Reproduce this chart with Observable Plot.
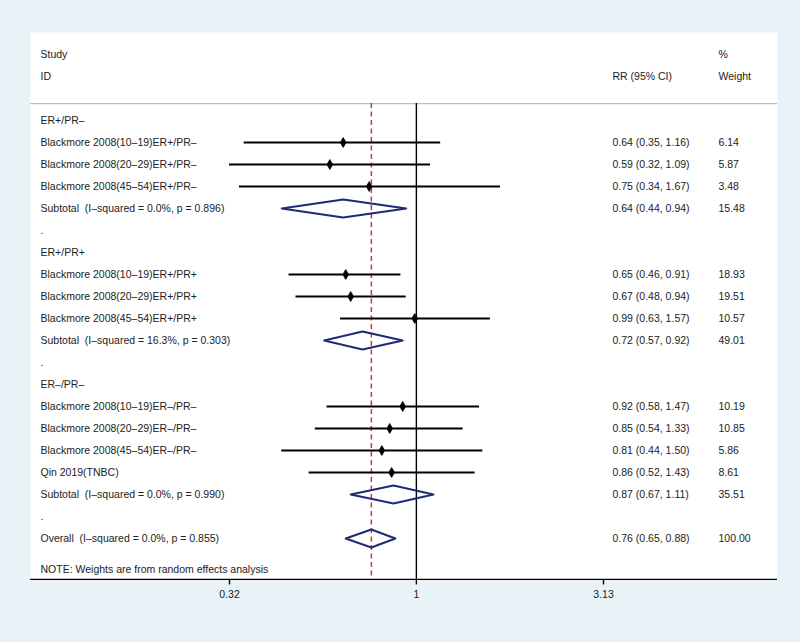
<!DOCTYPE html>
<html>
<head>
<meta charset="utf-8">
<script src="https://cdn.jsdelivr.net/npm/d3@7"></script>
<script src="https://cdn.jsdelivr.net/npm/@observablehq/plot@0.6"></script>
<style>
  html, body { margin: 0; padding: 0; background: #e9f2f7; }
</style>
</head>
<body>
<div id="chart"></div>
<script>
// ---- data ----
const groupNames = ["ER+/PR–", "ER+/PR+", "ER–/PR–"];
const studyLabels = [
  "Blackmore 2008(10–19)ER+/PR–",
  "Blackmore 2008(20–29)ER+/PR–",
  "Blackmore 2008(45–54)ER+/PR–",
  "Blackmore 2008(10–19)ER+/PR+",
  "Blackmore 2008(20–29)ER+/PR+",
  "Blackmore 2008(45–54)ER+/PR+",
  "Blackmore 2008(10–19)ER–/PR–",
  "Blackmore 2008(20–29)ER–/PR–",
  "Blackmore 2008(45–54)ER–/PR–",
  "Qin 2019(TNBC)"
];
const studyGroup  = [0, 0, 0, 1, 1, 1, 2, 2, 2, 2];
const studyRR     = [0.64, 0.59, 0.75, 0.65, 0.67, 0.99, 0.92, 0.85, 0.81, 0.86];
const studyLo     = [0.35, 0.32, 0.34, 0.46, 0.48, 0.63, 0.58, 0.54, 0.44, 0.52];
const studyHi     = [1.16, 1.09, 1.67, 0.91, 0.94, 1.57, 1.47, 1.33, 1.50, 1.43];
const studyWeight = ["6.14", "5.87", "3.48", "18.93", "19.51", "10.57", "10.19", "10.85", "5.86", "8.61"];

const subRR     = [0.64, 0.72, 0.87];
const subLo     = [0.44, 0.57, 0.67];
const subHi     = [0.94, 0.92, 1.11];
const subWeight = ["15.48", "49.01", "35.51"];
const subI2     = ["0.0%", "16.3%", "0.0%"];
const subP      = ["0.896", "0.303", "0.990"];

const overallRR = 0.76, overallLo = 0.65, overallHi = 0.88;
const overallWeight = "100.00", overallI2 = "0.0%", overallP = "0.855";

const tickValues = [0.32, 1, 3.13];
const tickLabels = ["0.32", "1", "3.13"];
const noteText = "NOTE: Weights are from random effects analysis";

// ---- build table (row index = line in the forest plot) ----
const f2 = v => v.toFixed(2);
const ciText = (e, l, h) => `${f2(e)} (${f2(l)}, ${f2(h)})`;

const labelRows = [];   // {row, label, ci, weight}
const studies = [];     // {row, rr, lo, hi}
const diamonds = [];    // polygon vertices {id, x, y}
const ticks = tickValues.map((v, i) => ({x: v, label: tickLabels[i]}));

labelRows.push({row: 0, label: "Study", ci: "", weight: "%"});
labelRows.push({row: 1, label: "ID", ci: "RR (95% CI)", weight: "Weight"});

function addDiamond(id, row, e, l, h) {
  const hh = 0.41;
  diamonds.push({id, x: l, y: row});
  diamonds.push({id, x: e, y: row - hh});
  diamonds.push({id, x: h, y: row});
  diamonds.push({id, x: e, y: row + hh});
}

let row = 3;
groupNames.forEach((g, gi) => {
  labelRows.push({row, label: g, ci: "", weight: ""});
  row++;
  studyLabels.forEach((s, i) => {
    if (studyGroup[i] !== gi) return;
    labelRows.push({row, label: s, ci: ciText(studyRR[i], studyLo[i], studyHi[i]), weight: studyWeight[i]});
    studies.push({row, rr: studyRR[i], lo: studyLo[i], hi: studyHi[i]});
    row++;
  });
  labelRows.push({row, label: `Subtotal\u00a0 (I–squared = ${subI2[gi]}, p = ${subP[gi]})`,
                  ci: ciText(subRR[gi], subLo[gi], subHi[gi]), weight: subWeight[gi]});
  addDiamond("s" + gi, row, subRR[gi], subLo[gi], subHi[gi]);
  row++;
  labelRows.push({row, label: ".", ci: "", weight: ""});
  row++;
});
const overallRow = row;
labelRows.push({row, label: `Overall\u00a0 (I–squared = ${overallI2}, p = ${overallP})`,
                ci: ciText(overallRR, overallLo, overallHi), weight: overallWeight});
addDiamond("o", row, overallRR, overallLo, overallHi);
labelRows.push({row: overallRow + 1.4, label: noteText, ci: "", weight: ""});

const sepRow = 2.23;
const axisRow = 23.86;

const fontStack = "'Liberation Sans', Arial, Helvetica, sans-serif";

const chart = Plot.plot({
  width: 800,
  height: 642,
  marginLeft: 30,
  marginRight: 23,
  marginTop: 32,
  marginBottom: 63,
  style: {background: "#e9f2f7", fontFamily: fontStack, fontSize: "10.5px", color: "#222", overflow: "visible"},
  x: {type: "log", domain: [0.32, 3.13], range: [229, 603], axis: null},
  y: {domain: [0, 23], range: [54, 560], axis: null},
  marks: [
    Plot.frame({fill: "white", stroke: null}),
    Plot.ruleY([sepRow], {stroke: "#bdbdbd", strokeWidth: 1.2}),
    Plot.ruleX([1], {y1: sepRow, y2: axisRow, stroke: "black", strokeWidth: 1.4}),
    Plot.ruleX([overallRR], {y1: sepRow, y2: axisRow, stroke: "#d0343a", strokeWidth: 1.5, strokeDasharray: "5,3.5"}),
    Plot.ruleY(studies, {y: "row", x1: "lo", x2: "hi", stroke: "black", strokeWidth: 2}),
    Plot.dot(studies, {x: "rr", y: "row", symbol: "diamond", r: 3, fill: "black", stroke: "black", strokeWidth: 0.8}),
    Plot.line(diamonds, {x: "x", y: "y", z: "id", stroke: "#1f2a78", strokeWidth: 2, curve: "linear-closed"}),
    Plot.text(labelRows, {y: "row", text: "label", frameAnchor: "left", dx: 10, textAnchor: "start", fill: "#222"}),
    Plot.text(labelRows, {y: "row", text: "ci", frameAnchor: "left", dx: 582, textAnchor: "start", fill: "#222"}),
    Plot.text(labelRows, {y: "row", text: "weight", frameAnchor: "left", dx: 688, textAnchor: "start", fill: "#222"}),
    Plot.ruleY([axisRow], {stroke: "black", strokeWidth: 1.4}),
    Plot.ruleX(ticks, {x: "x", y1: axisRow, y2: axisRow + 0.25, stroke: "black", strokeWidth: 1.4}),
    Plot.text(ticks, {x: "x", text: "label", frameAnchor: "bottom", dy: 18, fill: "#222"})
  ]
});
document.getElementById("chart").appendChild(chart);
</script>
</body>
</html>
